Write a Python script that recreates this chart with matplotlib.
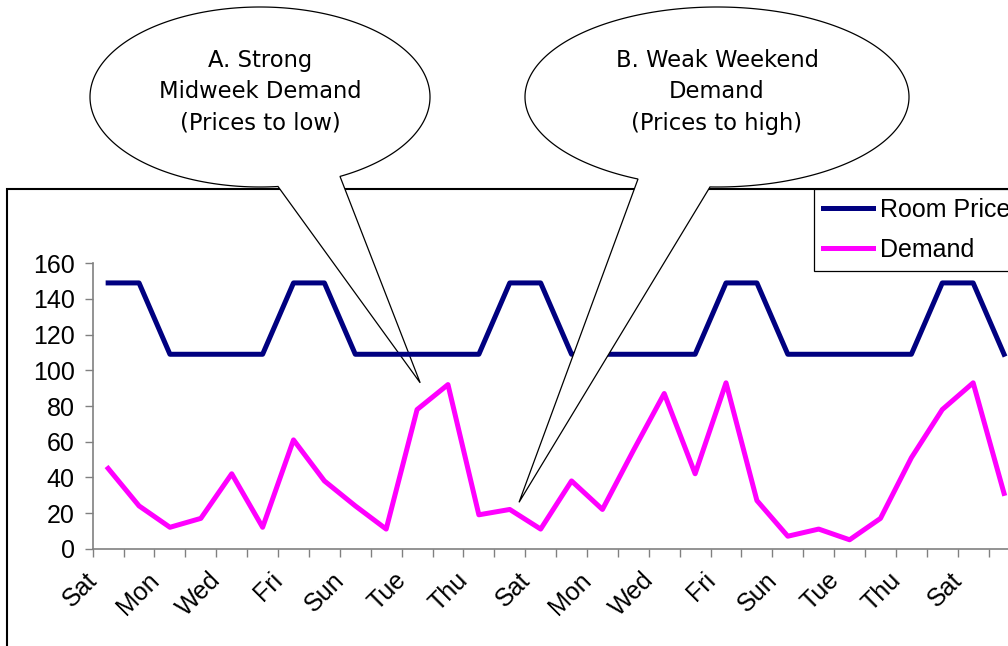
import numpy as np
import matplotlib
matplotlib.use("Agg")
import matplotlib.pyplot as plt
from matplotlib.patches import Polygon
from matplotlib.transforms import ScaledTranslation

# thirty nights, starting on a Saturday
days = ['Sat', 'Sun', 'Mon', 'Tue', 'Wed', 'Thu', 'Fri',
        'Sat', 'Sun', 'Mon', 'Tue', 'Wed', 'Thu', 'Fri',
        'Sat', 'Sun', 'Mon', 'Tue', 'Wed', 'Thu', 'Fri',
        'Sat', 'Sun', 'Mon', 'Tue', 'Wed', 'Thu', 'Fri',
        'Sat', 'Sun']
room_price = [149, 149, 109, 109, 109, 109, 149, 149, 109, 109,
              109, 109, 109, 149, 149, 109, 109, 109, 109, 109,
              149, 149, 109, 109, 109, 109, 109, 149, 149, 109]
demand = [45, 24, 12, 17, 42, 12, 61, 38, 24, 11,
          78, 92, 19, 22, 11, 38, 22, 55, 87, 42,
          93, 27, 7, 11, 5, 17, 51, 78, 93, 31]
y_ticks = [0, 20, 40, 60, 80, 100, 120, 140, 160]

note_a = "A. Strong\nMidweek Demand\n(Prices to low)"
note_b = "B. Weak Weekend\nDemand\n(Prices to high)"

W, H = 1008, 646
TICK_FONT = "Liberation Sans"
NOTE_FONT = "DejaVu Sans"
AXIS_GREY = "#808080"

fig = plt.figure(figsize=(W / 100, H / 100), dpi=100)
fig.patch.set_facecolor("white")


def pixel_axes(z):
    # full-figure overlay measured in pixels, y pointing down
    a = fig.add_axes([0, 0, 1, 1], zorder=z)
    a.set_xlim(0, W)
    a.set_ylim(H, 0)
    a.axis("off")
    a.patch.set_alpha(0)
    return a


bg = pixel_axes(0)
ax = fig.add_axes([92.7 / W, (H - 548.7) / H, (1019.5 - 92.7) / W, 285.4 / H], zorder=1)
fg = pixel_axes(2)

# chart frame, runs off the right and bottom edges
bg.plot([7, 7, W + 10], [H + 10, 189, 189], color="black", lw=1.5,
        solid_joinstyle="miter", clip_on=False, zorder=1)

x = np.arange(len(days))
ax.patch.set_alpha(0)
ax.plot(x, room_price, color="#000080", lw=3.6, label="Room Price")
ax.plot(x, demand, color="#FF00FF", lw=3.6, label="Demand")

ax.set_xlim(-0.5, len(days) - 0.5)
ax.set_ylim(0, 160)
ax.set_yticks(y_ticks)
ax.set_yticklabels([str(v) for v in y_ticks], fontfamily=TICK_FONT, fontsize=18)
ax.set_xticks(x[::2])
ax.set_xticklabels(days[::2], fontfamily=TICK_FONT, fontsize=18,
                   rotation=45, ha="right", rotation_mode="anchor")
ax.set_xticks(np.arange(-0.5, len(days)), minor=True)
ax.tick_params(axis="x", which="major", length=0, pad=14)
ax.tick_params(axis="x", which="minor", length=6, width=1, color=AXIS_GREY)
ax.tick_params(axis="y", length=6, width=1, color=AXIS_GREY, pad=7)
for lab in ax.get_xticklabels():
    lab.set_transform(lab.get_transform() + ScaledTranslation(-0.23, 0, fig.dpi_scale_trans))
for side in ("top", "right"):
    ax.spines[side].set_visible(False)
for side in ("left", "bottom"):
    ax.spines[side].set_color(AXIS_GREY)
    ax.spines[side].set_linewidth(1.2)

leg = fig.legend(loc="upper left", bbox_to_anchor=(814 / W, 1 - 189 / H),
                 bbox_transform=fig.transFigure, borderaxespad=0,
                 prop={"family": TICK_FONT, "size": 18}, fancybox=False,
                 framealpha=1, edgecolor="black", borderpad=0.35,
                 handlelength=2.0, handletextpad=0.28, labelspacing=0.65)
leg.get_frame().set_linewidth(0.9)


def to_pixels(px, py):
    dx, dy = ax.transData.transform((px, py))
    return dx, H - dy


def callout(target, cx, cy, a, b, base_x, tip, text):
    # speech bubble: ellipse with a wedge tail pointing at a data position
    t = sorted(np.arccos((np.array(base_x) - cx) / a))
    ts = np.linspace(t[1], t[0] + 2 * np.pi, 400)
    pts = list(zip(cx + a * np.cos(ts), cy + b * np.sin(ts)))
    pts.append(to_pixels(*tip))
    target.add_patch(Polygon(pts, closed=True, facecolor="white", edgecolor="black",
                             lw=0.9, joinstyle="miter", zorder=3))
    target.text(cx, 92, text, ha="center", va="center", family=NOTE_FONT,
                fontsize=16.3, linespacing=1.45, zorder=4)


callout(bg, 260, 97, 170, 90, [278, 340], (10.1, 93), note_a)
callout(fg, 717, 97, 192, 90, [638, 710], (13.3, 26), note_b)

fig.savefig("out.png", dpi=100)
